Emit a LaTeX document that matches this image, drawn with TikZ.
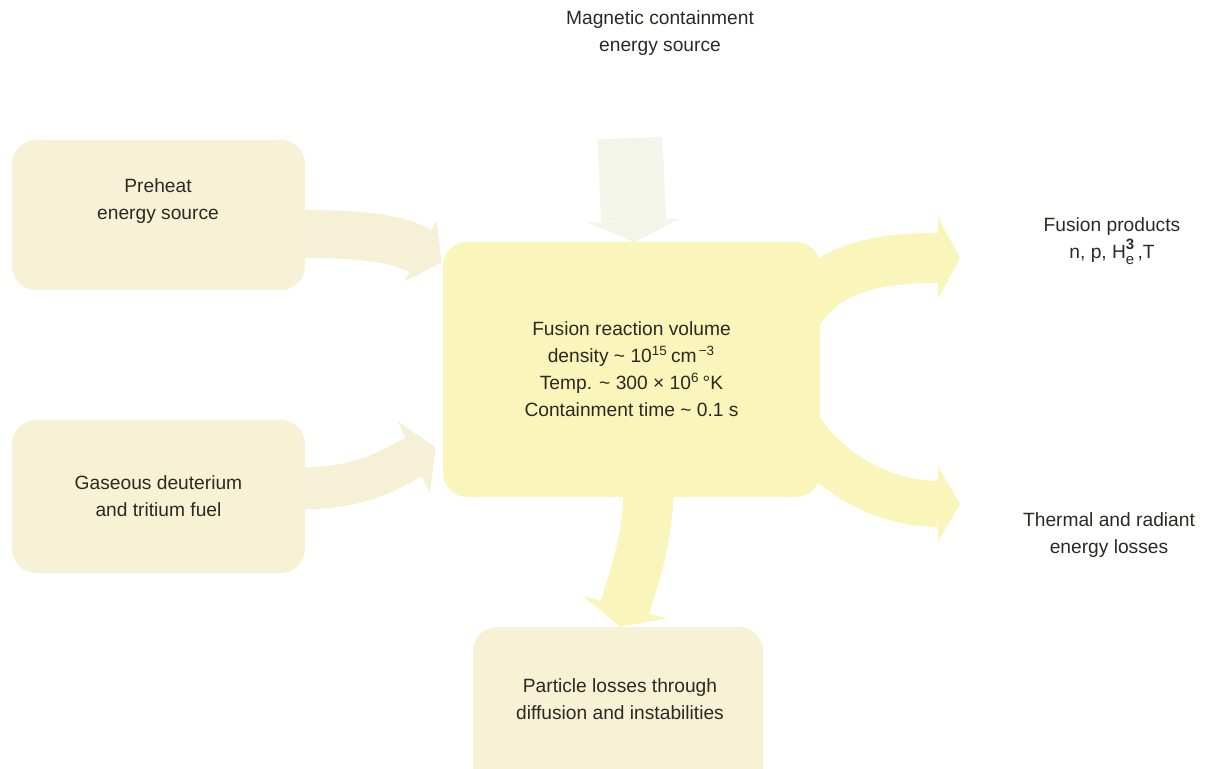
\documentclass[tikz,border=0pt]{standalone}
\usepackage{fontspec}
\setmainfont{Liberation Sans}
\usetikzlibrary{arrows.meta,calc,backgrounds}
\definecolor{cream}{HTML}{F7F1D5}
\definecolor{creamarrow}{HTML}{F6F0D6}
\definecolor{yel}{HTML}{FAF5BA}
\definecolor{pale}{HTML}{F4F5EA}
\definecolor{ink}{HTML}{2A2A22}
\begin{document}
\begin{tikzpicture}[x=0.5pt,y=-0.5pt,
  font=\fontsize{9.6}{13.5}\selectfont,
  box/.style={fill=cream, rounded corners=12pt, inner sep=0pt, text=ink, align=center},
  corebox/.style={fill=yel, rounded corners=12pt, inner sep=0pt, text=ink, align=center},
  lbl/.style={text=ink, align=center, inner sep=0pt},
  fat/.style n args={4}{draw=#1, line width=#2,
    -{Triangle[length=#3 0 0, width=#4 0 0, line width=0pt 0 0]}}]
\useasboundingbox (0,0) rectangle (1217,769);
\clip (0,0) rectangle (1217,769);

% boxes
\node[box, minimum width=146.5pt, minimum height=75pt] (pre) at (158.5,215) {};
\node[lbl] (pretext) at (158,201) {Preheat\\energy source};
\node[box, minimum width=146.5pt, minimum height=76.5pt] (gas) at (158.5,496.5)
  {Gaseous deuterium\\and tritium fuel};
\node[corebox, minimum width=188.5pt, minimum height=127.5pt] (core) at (631.5,369.5)
  {Fusion reaction volume\\
   density \textasciitilde\ 10\textsuperscript{15}\,cm\textsuperscript{\,−3}\\
   Temp. \textasciitilde\ 300 × 10\textsuperscript{6}\,°K\\
   Containment time \textasciitilde\ 0.1 s};
\node[box, minimum width=145pt, minimum height=86.5pt] (part) at (618,713.5) {};
\node[lbl] (parttext) at (620,699) {Particle losses through\\diffusion and instabilities};

% outside labels
\node[lbl] (mag) at (660,33) {Magnetic containment\\energy source};
\node[lbl] (fp) at (1112,241) {Fusion products\\n, p, H\rlap{\raisebox{0.85ex}{\fontsize{7.5}{7.5}\selectfont\bfseries 3}}\raisebox{-0.55ex}{\fontsize{7.5}{7.5}\selectfont e}\,,T};
\node[lbl] (th) at (1109,535) {Thermal and radiant\\energy losses};

\coordinate (magsrc) at (630,138);
\coordinate (fptip) at (960,258);
\coordinate (thtip) at (960,504);

\begin{scope}[on background layer]
  % magnetic containment arrow (very pale)
  \draw[fat={pale}{32.5pt}{11pt}{46pt}] (magsrc) -- ($(core.north)+(3,1)$);
  % preheat arrow
  \draw[fat={creamarrow}{24pt}{12pt}{34.5pt}] ($(pre.east)+(-8,19)$)
     .. controls +(70,0) and +(-45,-24) .. ($(core.west)+(-1,-107)$);
  % fuel arrow
  \draw[fat={creamarrow}{21pt}{12pt}{39.5pt}] ($(gas.east)+(-8,-8)$)
     .. controls +(70,0) and +(-45,20) .. ($(core.west)+(-7,78)$);
  % fusion products arrow
  \draw[fat={yel}{25pt}{11pt}{41pt}] ($(core.east)+(-20,-60)$)
     .. controls +(30,-45) and +(-75,0) .. (fptip);
  % thermal losses arrow
  \draw[fat={yel}{23pt}{11pt}{38pt}] ($(core.east)+(-20,60)$)
     .. controls +(30,45) and +(-75,0) .. (thtip);
  % particle losses arrow
  \draw[fat={yel}{25pt}{10pt}{43.5pt}] ($(core.south)+(17,-10)$)
     .. controls +(0,55) and +(12,-45) .. ($(part.north)+(2,0)$);
\end{scope}
\end{tikzpicture}
\end{document}
